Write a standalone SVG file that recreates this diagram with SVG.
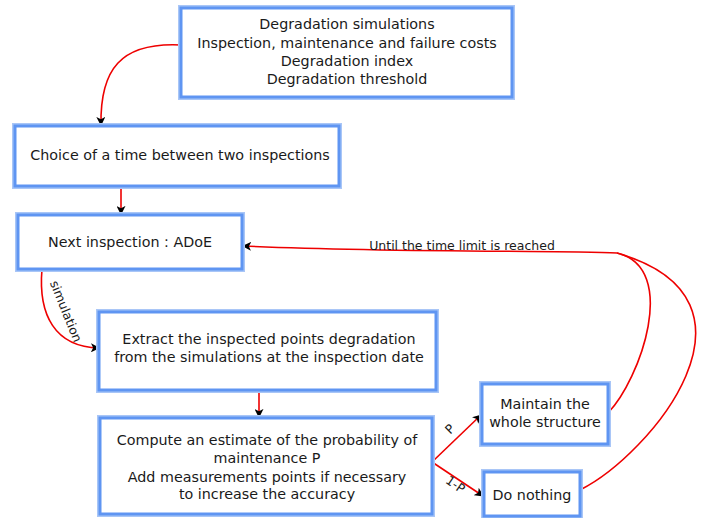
<svg xmlns="http://www.w3.org/2000/svg" width="702" height="518" viewBox="0 0 702 518">
<style>
.box{fill:#fff;stroke:#5f95f2;stroke-width:3}
.glow{fill:none;stroke:#a9c6f7;stroke-width:6}
.t{font-family:"DejaVu Sans",sans-serif;font-size:14.3px;fill:#1a1a1a;text-anchor:middle}
.l{font-family:"DejaVu Sans",sans-serif;font-size:12.5px;fill:#1a1a1a;text-anchor:middle}
.c{fill:none;stroke:#ee0000;stroke-width:1.6}
</style>
<defs>
<marker id="a" viewBox="0 0 10 10" refX="9" refY="5" markerWidth="9" markerHeight="9" markerUnits="userSpaceOnUse" orient="auto">
<path d="M0,0 L10,5 L0,10 L2.5,5 Z" fill="#000"/>
</marker>
</defs>
<g id="connectors">
<path class="c" d="M181,45 C120,42 100,70 101,125" marker-end="url(#a)"/>
<path class="c" d="M121,187 L121,214" marker-end="url(#a)"/>
<path class="c" d="M42,269 C38,315 55,347 99,348" marker-end="url(#a)"/>
<path class="c" d="M259,391 L259,417" marker-end="url(#a)"/>
<path class="c" d="M432,462 L481,415" marker-end="url(#a)"/>
<path class="c" d="M432,462 L483,496" marker-end="url(#a)"/>
<path class="c" d="M608,413 C640,380 680,268 617,253 C560,250 400,253 243,246" marker-end="url(#a)"/>
<path class="c" d="M580,490 C650,455 780,300 617,253"/>
<text class="l" x="462" y="250">Until the time limit is reached</text>
<text class="l" transform="translate(62,313) rotate(68)">simulation</text>
<text class="l" transform="translate(453,432) rotate(-45)">P</text>
<text class="l" transform="translate(453,488) rotate(35)">1-P</text>
</g>
<g id="n1">
<rect class="glow" x="181" y="8" width="331" height="89"/>
<rect class="box" x="181" y="8" width="331" height="89"/>
<text class="t" x="347" y="29">Degradation simulations</text>
<text class="t" x="347" y="48">Inspection, maintenance and failure costs</text>
<text class="t" x="347" y="66">Degradation index</text>
<text class="t" x="347" y="84">Degradation threshold</text>
</g>
<g id="n2">
<rect class="glow" x="15" y="126" width="324" height="60"/>
<rect class="box" x="15" y="126" width="324" height="60"/>
<text class="t" x="180" y="160">Choice of a time between two inspections</text>
</g>
<g id="n3">
<rect class="glow" x="18" y="215" width="224" height="54"/>
<rect class="box" x="18" y="215" width="224" height="54"/>
<text class="t" x="130" y="247">Next inspection : ADoE</text>
</g>
<g id="n4">
<rect class="glow" x="99" y="312" width="337" height="78"/>
<rect class="box" x="99" y="312" width="337" height="78"/>
<text class="t" x="269" y="344">Extract the inspected points degradation</text>
<text class="t" x="269" y="362">from the simulations at the inspection date</text>
</g>
<g id="n5">
<rect class="glow" x="100" y="418" width="332" height="96"/>
<rect class="box" x="100" y="418" width="332" height="96"/>
<text class="t" x="267" y="445">Compute an estimate of the probability of</text>
<text class="t" x="267" y="463">maintenance P</text>
<text class="t" x="267" y="482">Add measurements points if necessary</text>
<text class="t" x="267" y="499">to increase the accuracy</text>
</g>
<g id="n6">
<rect class="glow" x="482" y="384" width="126" height="60"/>
<rect class="box" x="482" y="384" width="126" height="60"/>
<text class="t" x="545" y="409">Maintain the</text>
<text class="t" x="545" y="427">whole structure</text>
</g>
<g id="n7">
<rect class="glow" x="484" y="472" width="96" height="44"/>
<rect class="box" x="484" y="472" width="96" height="44"/>
<text class="t" x="532" y="500">Do nothing</text>
</g>
</svg>
